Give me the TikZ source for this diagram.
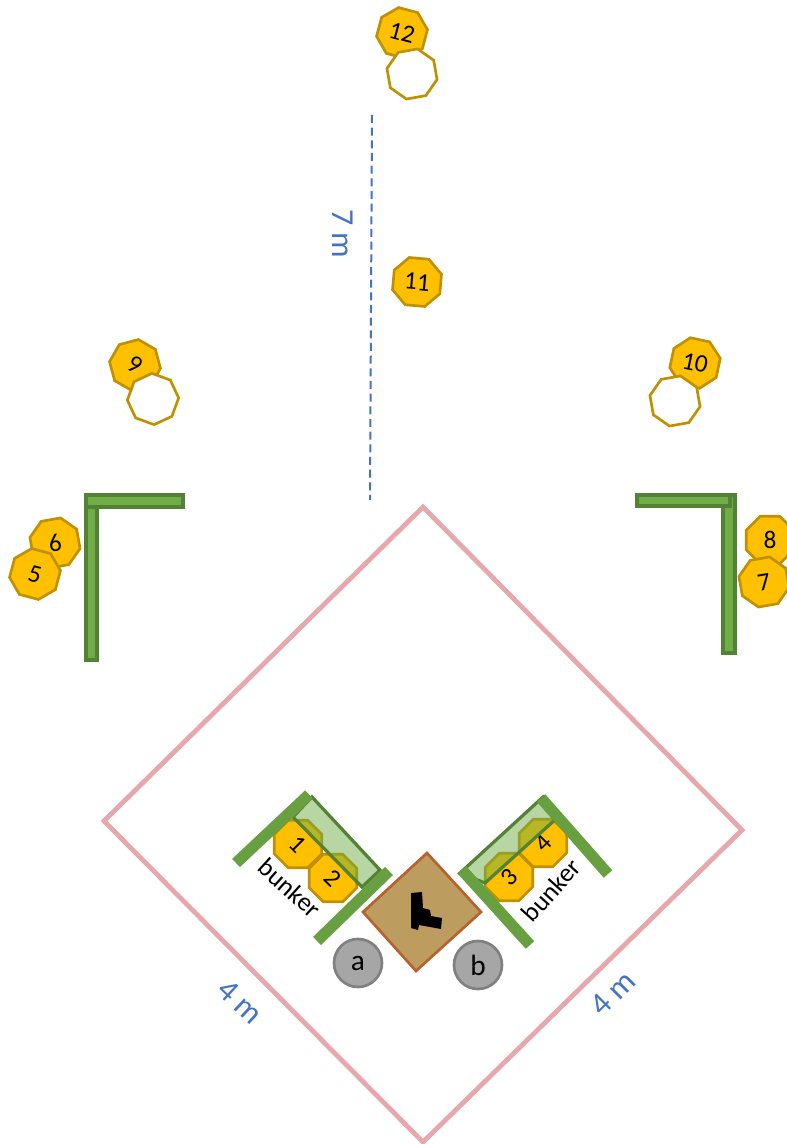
\documentclass[tikz,border=0pt]{standalone}
\usepackage{fontspec}
\setmainfont{Carlito}
\usetikzlibrary{positioning,shapes.geometric}
\definecolor{targetfill}{HTML}{FFC000}
\definecolor{targetline}{HTML}{BF9000}
\definecolor{wallfill}{HTML}{70AD47}
\definecolor{wallline}{HTML}{548235}
\definecolor{fieldline}{HTML}{E6A8AC}
\definecolor{dimblue}{HTML}{4472C4}
\definecolor{gunfill}{HTML}{BD9C5F}
\definecolor{gunline}{HTML}{B5622F}

\begin{document}
\begin{tikzpicture}[
  x=0.75pt, y=-0.75pt,
  target/.style={draw=targetline, fill=targetfill, line width=2pt, regular polygon,
    regular polygon sides=8, minimum size=38.5pt, inner sep=0pt, font=\fontsize{19}{19}\selectfont},
  ghost/.style={target, fill=white},
  squad/.style={draw=black!50, fill=black!35, line width=2pt, circle, minimum size=36pt,
    inner sep=0pt, font=\fontsize{22}{22}\selectfont},
  wallv/.style={draw=wallline, fill=wallfill, line width=3pt},
  bwall/.style={wallfill!92!black, line width=8.5pt},
  cover/.style={draw=wallline, fill=wallfill, fill opacity=0.5, line width=2.4pt},
  dim/.style={text=dimblue, font=\fontsize{24}{24}\selectfont},
  lbl/.style={font=\fontsize{19.5}{19.5}\selectfont, inner sep=0pt},
]
\useasboundingbox (0,0) rectangle (787,1144);

% field
\draw[fieldline, line width=3.6pt] (423,507) -- (742,830) -- (423,1142) -- (104,821) -- cycle;

% far targets
\node[target, rotate=-15] (t12) at (402,33) {12};
\node[ghost, rotate=10] (g12) at (412,74) {};
\node[target, rotate=-5] (t11) at (417,282) {11};
\node[target, rotate=-30] (t9) at (135,365) {9};
\node[ghost, rotate=25] (g9) at (153,399) {};
\node[target, rotate=-12] (t10) at (695,363) {10};
\node[ghost, rotate=10] (g10) at (675,401) {};

% side walls
\draw[wallv] (86,495) rectangle (183,507);
\draw[wallv] (86,507) rectangle (97,660);
\draw[wallv] (723,495) rectangle (735,653);
\draw[wallv] (637,495) rectangle (730,506);

% side targets
\node[target, rotate=10] (t6) at (55,543) {6};
\node[target, rotate=-15] (t5) at (35,574) {5};
\node[target] (t8) at (770,540) {8};
\node[target, rotate=10] (t7) at (764,582) {7};

% bunkers
\node[target, rotate=-45] (t1) at (298,844) {1};
\node[target, rotate=-45] (t2) at (333,878) {2};
\node[target, rotate=45] (t3) at (509,877) {3};
\node[target, rotate=45] (t4) at (543,843) {4};
\draw[cover] (312,797) -- (380,870) -- (362,887) -- (293,817) -- cycle;
\draw[cover] (543,797) -- (557,818) -- (485,883) -- (460,873) -- cycle;
\draw[bwall] (236,863) -- (309,794.5);
\draw[bwall] (317,941) -- (389,871);
\draw[bwall] (462,870) -- (530,945);
\draw[bwall] (541,798) -- (608,874);
\node[lbl, rotate=-42] (bl) at (290,888) {bunker};
\node[lbl, rotate=48] (br) at (551,890) {bunker};

% gun
\draw[gunline, fill=gunfill, line width=2pt] (427,853) -- (481,912) -- (416,971) -- (363,912) -- cycle;
\fill[black] (411,893) -- (422,892) -- (423,908) -- (430,910) -- (431,916) -- (442,918)
  -- (441,929) -- (419,925) -- (418,930) -- (411,928) -- cycle;
\node[squad] (a) at (358,963) {a};
\node[squad] (b) at (478,965) {b};

% dimensions
\coordinate (dtop) at (372,115);
\coordinate (dbot) at (370,500);
\draw[dimblue, line width=1.5pt, dash pattern=on 6pt off 3.5pt] (dtop) -- (dbot);
\node[dim, rotate=-90] (d7) at (343,234) {7 m};
\node[dim, rotate=-43] (d4l) at (240,1002) {4 m};
\node[dim, rotate=45] (d4r) at (613,993) {4 m};
\end{tikzpicture}
\end{document}
